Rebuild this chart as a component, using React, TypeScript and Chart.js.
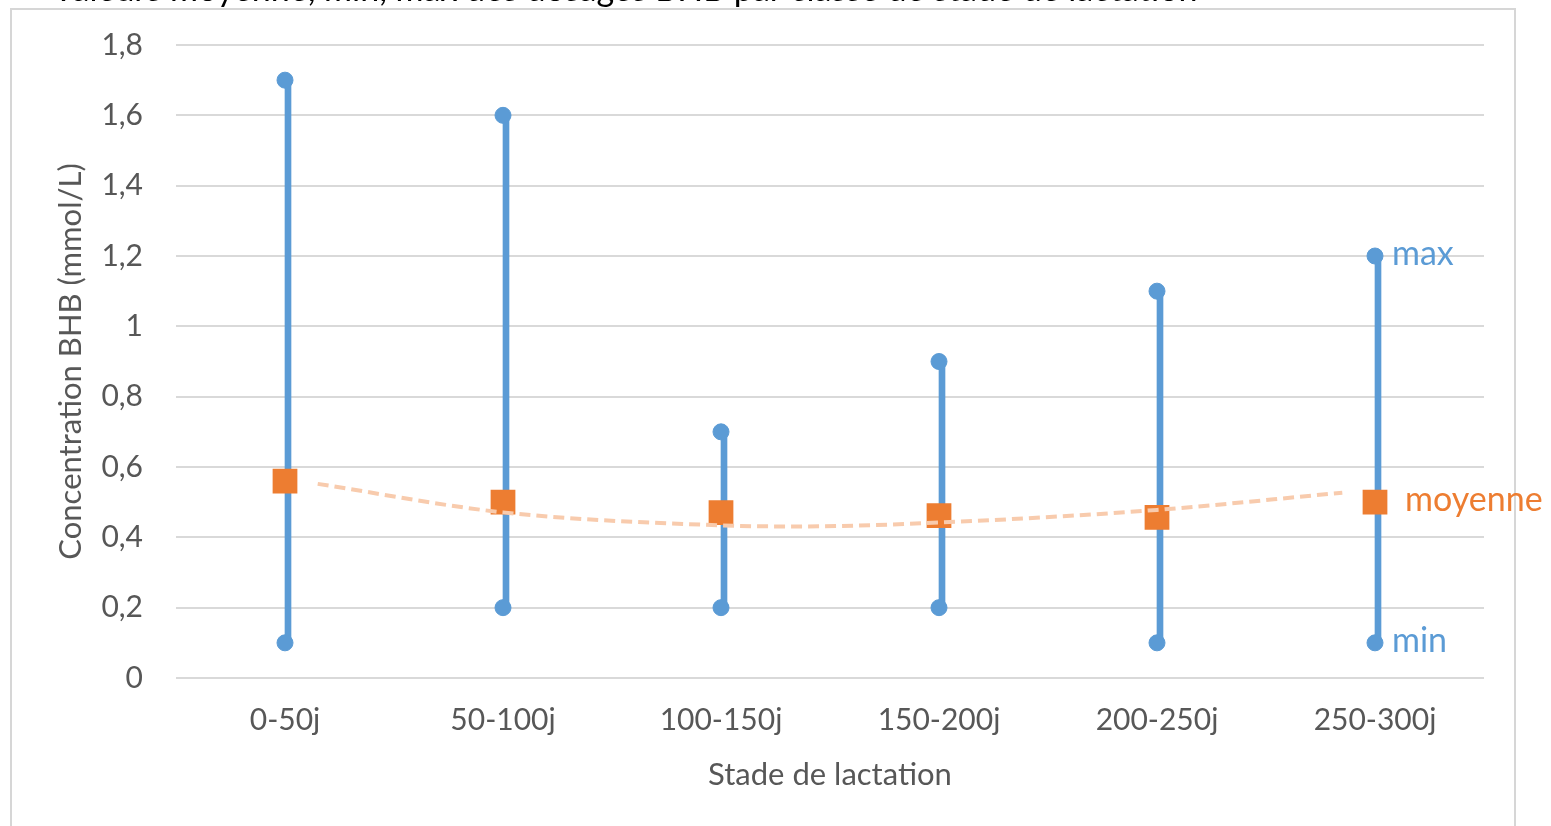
import React, { useEffect, useRef } from "react";
import { Chart, registerables } from "chart.js";

Chart.register(...registerables);

const categories = ["0-50j", "50-100j", "100-150j", "150-200j", "200-250j", "250-300j"];
const maxValues = [1.7, 1.6, 0.7, 0.9, 1.1, 1.2];
const minValues = [0.1, 0.2, 0.2, 0.2, 0.1, 0.1];
const meanValues = [0.56, 0.5, 0.47, 0.462, 0.457, 0.5];
// dashed trend curve (x = category position)
const trendX = [0.15, 1, 2, 2.35, 3, 4, 4.85];
const trendY = [0.552, 0.471, 0.434, 0.431, 0.442, 0.478, 0.527];
const yTicks = [0, 0.2, 0.4, 0.6, 0.8, 1, 1.2, 1.4, 1.6, 1.8];

const BLUE = "#5b9bd5";
const ORANGE = "#ed7d31";
const TREND = "#f8cbad";
const TEXT = "#575757";
const GRID = "#d9d9d9";
const FONT = "Lato, 'Open Sans', sans-serif";

const fmt = (v: number) => String(Math.round(v * 10) / 10).replace(".", ",");

const framePlugin = {
  id: "frame",
  beforeDraw(chart: any) {
    const ctx = chart.ctx;
    ctx.save();
    ctx.fillStyle = "#ffffff";
    ctx.fillRect(0, 0, chart.width, chart.height);
    ctx.strokeStyle = "#d6d6d6";
    ctx.lineWidth = 2;
    ctx.strokeRect(11, 9, 1504, chart.height + 20);
    ctx.restore();
  },
};

const endLabelsPlugin = {
  id: "endLabels",
  afterDatasetsDraw(chart: any) {
    const ctx = chart.ctx;
    const last = categories.length - 1;
    const items = [
      { ds: 2, text: "max", color: BLUE, dx: 17 },
      { ds: 3, text: "min", color: BLUE, dx: 17 },
      { ds: 1, text: "moyenne", color: ORANGE, dx: 30 },
    ];
    ctx.save();
    ctx.font = `34px ${FONT}`;
    ctx.textBaseline = "middle";
    ctx.textAlign = "left";
    for (const it of items) {
      const pt = chart.getDatasetMeta(it.ds).data[last];
      if (!pt) continue;
      ctx.fillStyle = it.color;
      ctx.fillText(it.text, pt.x + it.dx, pt.y - 2);
    }
    ctx.restore();
  },
};

export default function App() {
  const ref = useRef<HTMLCanvasElement | null>(null);

  useEffect(() => {
    document.body.style.margin = "0";
    if (!ref.current) return;
    const chart = new Chart(ref.current, {
      type: "bar",
      data: {
        labels: categories,
        datasets: [
          {
            type: "line",
            label: "tendance",
            data: trendX.map((x, i) => ({ x, y: trendY[i] })),
            xAxisID: "xt",
            borderColor: TREND,
            borderWidth: 4,
            borderDash: [11, 6],
            pointRadius: 0,
            cubicInterpolationMode: "monotone",
            fill: false,
            order: 0,
          } as any,
          {
            type: "line",
            label: "moyenne",
            data: meanValues,
            showLine: false,
            pointStyle: "rect",
            pointRadius: 17.5,
            pointBackgroundColor: ORANGE,
            pointBorderColor: ORANGE,
            pointBorderWidth: 0,
            order: 1,
          } as any,
          {
            type: "line",
            label: "max",
            data: maxValues,
            showLine: false,
            pointRadius: 8,
            pointBackgroundColor: BLUE,
            pointBorderColor: BLUE,
            order: 2,
          } as any,
          {
            type: "line",
            label: "min",
            data: minValues,
            showLine: false,
            pointRadius: 8,
            pointBackgroundColor: BLUE,
            pointBorderColor: BLUE,
            order: 2,
          } as any,
          {
            type: "bar",
            label: "étendue",
            data: minValues.map((m, i) => [m, maxValues[i]]),
            backgroundColor: BLUE,
            barThickness: 6,
            order: 3,
          } as any,
        ],
      },
      options: {
        animation: false,
        responsive: false,
        maintainAspectRatio: false,
        layout: { padding: { top: 45, right: 67, left: 0, bottom: 0 } },
        plugins: {
          legend: { display: false },
          tooltip: { enabled: false },
          title: { display: false },
        },
        scales: {
          x: {
            type: "category",
            offset: true,
            grid: { display: false, drawTicks: false },
            border: { display: false },
            ticks: { color: TEXT, font: { family: FONT, size: 30 }, padding: 24, maxRotation: 0 },
            title: {
              display: true,
              text: "Stade de lactation",
              color: TEXT,
              font: { family: FONT, size: 31 },
              padding: { top: 0, bottom: 32 },
            },
            afterFit(scale: any) {
              scale.height = 148;
            },
          },
          xt: {
            type: "linear",
            display: false,
            offset: false,
            grid: { offset: false },
            min: -0.5,
            max: 5.5,
          },
          y: {
            min: 0,
            max: 1.8,
            afterBuildTicks(scale: any) {
              scale.ticks = yTicks.map((v) => ({ value: v }));
            },
            grid: { color: GRID, lineWidth: 2, drawTicks: false },
            border: { display: false },
            ticks: {
              color: TEXT,
              font: { family: FONT, size: 30 },
              padding: 33,
              callback: (v: any) => fmt(Number(v)),
            },
            title: {
              display: true,
              text: "Concentration BHB (mmol/L)",
              color: TEXT,
              font: { family: FONT, size: 31 },
              padding: { top: 52, bottom: 0 },
            },
            afterFit(scale: any) {
              scale.width = 176;
              scale.paddingTop = 0;
              scale.paddingBottom = 0;
            },
          },
        },
      },
      plugins: [framePlugin, endLabelsPlugin],
    } as any);
    return () => chart.destroy();
  }, []);

  return (
    <div style={{ position: "relative", width: 1551, height: 826, overflow: "hidden" }}>
      <canvas ref={ref} width={1551} height={826} style={{ display: "block", width: 1551, height: 826 }} />
      <div
        style={{
          position: "absolute",
          left: 52,
          top: -29,
          fontFamily: "Lato, sans-serif",
          fontSize: 34,
          lineHeight: "34px",
          color: "#000",
          whiteSpace: "nowrap",
        }}
      >
        Valeurs moyenne, min, max des dosages BHB par classe de stade de lactation
      </div>
    </div>
  );
}
